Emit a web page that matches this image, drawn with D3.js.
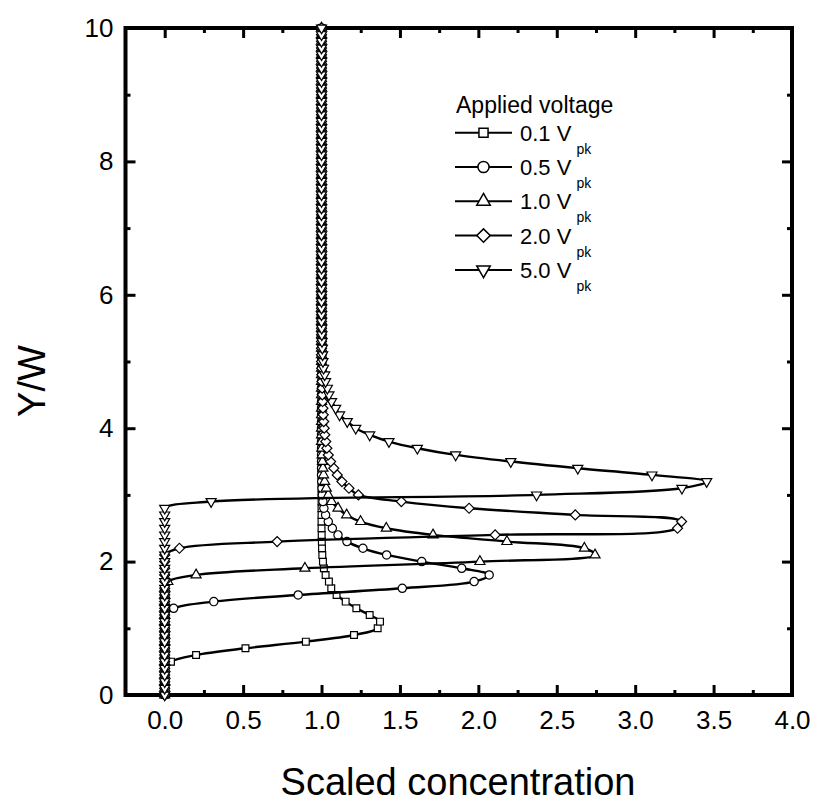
<!DOCTYPE html>
<html>
<head>
<meta charset="utf-8">
<script src="https://cdn.jsdelivr.net/npm/d3@7"></script>
<style>
  body { margin:0; background:#fff; }
  svg { font-family: "Liberation Sans", Arial, sans-serif; }
</style>
</head>
<body>
<div id="canvas"></div>
<script>
// Y/W sample positions
var yw = [
  0.0,0.1,0.2,0.3,0.4,0.5,0.6,0.7,0.8,0.9,
  1.0,1.1,1.2,1.3,1.4,1.5,1.6,1.7,1.8,1.9,
  2.0,2.1,2.2,2.3,2.4,2.5,2.6,2.7,2.8,2.9,
  3.0,3.1,3.2,3.3,3.4,3.5,3.6,3.7,3.8,3.9,
  4.0,4.1,4.2,4.3,4.4,4.5,4.6,4.7,4.8,4.9,
  5.0,5.1,5.2,5.3,5.4,5.5,5.6,5.7,5.8,5.9,
  6.0,6.1,6.2,6.3,6.4,6.5,6.6,6.7,6.8,6.9,
  7.0,7.1,7.2,7.3,7.4,7.5,7.6,7.7,7.8,7.9,
  8.0,8.1,8.2,8.3,8.4,8.5,8.6,8.7,8.8,8.9,
  9.0,9.1,9.2,9.3,9.4,9.5,9.6,9.7,9.8,9.9,
  10.0];

// scaled concentration for each applied voltage
var conc01 = [
  0,0,0,0,0,0.04,0.20,0.515,0.90,1.207,
  1.358,1.373,1.307,1.222,1.154,1.096,1.062,1.047,1.026,1.015,
  1.009,1.005,1.003,1.002,1.001,1,1,1,1,1,
  1,1,1,1,1,1,1,1,1,1,
  1,1,1,1,1,1,1,1,1,1,
  1,1,1,1,1,1,1,1,1,1,
  1,1,1,1,1,1,1,1,1,1,
  1,1,1,1,1,1,1,1,1,1,
  1,1,1,1,1,1,1,1,1,1,
  1,1,1,1,1,1,1,1,1,1,
  1];
var conc05 = [
  0,0,0,0,0,0,0,0,0,0,
  0,0,0,0.057,0.313,0.851,1.515,1.973,2.069,1.894,
  1.639,1.415,1.264,1.162,1.105,1.069,1.043,1.026,1.015,1.009,
  1.005,1.003,1.001,1,1,1,1,1,1,1,
  1,1,1,1,1,1,1,1,1,1,
  1,1,1,1,1,1,1,1,1,1,
  1,1,1,1,1,1,1,1,1,1,
  1,1,1,1,1,1,1,1,1,1,
  1,1,1,1,1,1,1,1,1,1,
  1,1,1,1,1,1,1,1,1,1,
  1];
var conc10 = [
  0,0,0,0,0,0,0,0,0,0,
  0,0,0,0,0,0,0,0.02,0.20,0.894,
  2.01,2.744,2.676,2.182,1.711,1.413,1.249,1.16,1.105,1.064,
  1.043,1.03,1.02,1.013,1.009,1.006,1.004,1.002,1,1,
  1,1,1,1,1,1,1,1,1,1,
  1,1,1,1,1,1,1,1,1,1,
  1,1,1,1,1,1,1,1,1,1,
  1,1,1,1,1,1,1,1,1,1,
  1,1,1,1,1,1,1,1,1,1,
  1,1,1,1,1,1,1,1,1,1,
  1];
var conc20 = [
  0,0,0,0,0,0,0,0,0,0,
  0,0,0,0,0,0,0,0,0,0,
  0,0,0.094,0.717,2.107,3.27,3.296,2.618,1.941,1.509,
  1.235,1.175,1.13,1.10,1.078,1.058,1.043,1.034,1.027,1.021,
  1.017,1.014,1.011,1.009,1.007,1.005,1.004,1.003,1.002,1.001,
  1,1,1,1,1,1,1,1,1,1,
  1,1,1,1,1,1,1,1,1,1,
  1,1,1,1,1,1,1,1,1,1,
  1,1,1,1,1,1,1,1,1,1,
  1,1,1,1,1,1,1,1,1,1,
  1];
var conc50 = [
  0,0,0,0,0,0,0,0,0,0,
  0,0,0,0,0,0,0,0,0,0,
  0,0,0,0,0,0,0,0,0,0.296,
  2.371,3.298,3.456,3.107,2.634,2.207,1.855,1.611,1.43,1.307,
  1.218,1.164,1.115,1.09,1.064,1.047,1.037,1.026,1.02,1.013,
  1.009,1.007,1.005,1.003,1.002,1.001,1,1,1,1,
  1,1,1,1,1,1,1,1,1,1,
  1,1,1,1,1,1,1,1,1,1,
  1,1,1,1,1,1,1,1,1,1,
  1,1,1,1,1,1,1,1,1,1,
  1];

var voltages = ['0.1', '0.5', '1.0', '2.0', '5.0'];
var xTicks = [0, 0.5, 1.0, 1.5, 2.0, 2.5, 3.0, 3.5, 4.0];
var xMinor = [0.25, 0.75, 1.25, 1.75, 2.25, 2.75, 3.25, 3.75];
var yTicks = [0, 2, 4, 6, 8, 10];
var yMinor = [1, 3, 5, 7, 9];

var m = {t:28, l:125.5},
    w = 792 - 125.5,
    h = 695 - 28;

var svg = d3.select('#canvas')
    .append('svg')
    .attr('width', 820)
    .attr('height', 803);

var plot = svg.append('g')
    .attr('transform','translate('+ m.l+','+ m.t+')');

// Scale
var scaleX = d3.scaleLinear()
    .domain([-0.25, 4.0])
    .range([0, w]);
var scaleY = d3.scaleLinear()
    .domain([0, 10])
    .range([h, 0]);

// symbols: square, circle, up triangle, diamond, down triangle
var symbols = [
  {type: d3.symbolSquare, size: 46, rot: 0},
  {type: d3.symbolCircle, size: 54, rot: 0},
  {type: d3.symbolTriangle, size: 44, rot: 0},
  {type: d3.symbolSquare, size: 50, rot: 45},
  {type: d3.symbolTriangle, size: 44, rot: 180}
];

var allConc = [conc01, conc05, conc10, conc20, conc50];
var series = voltages.map(function(v, i){
  return {
    name: v,
    sym: symbols[i],
    points: yw.map(function(y, k){ return {y: y, c: allConc[i][k]}; })
  };
});

drawAxis();
draw(series);
drawLegend();

function drawAxis(){
  function style(g){
    g.select('.domain').remove();
    g.selectAll('line').attr('stroke','#000').attr('stroke-width',3);
    g.selectAll('text').attr('fill','#000').style('font-size','26px');
  }
  // bottom
  plot.append('g').attr('transform','translate(0,'+h+')')
    .call(d3.axisBottom(scaleX).tickValues(xTicks).tickFormat(d3.format('.1f'))
      .tickSize(-10).tickPadding(16)).call(style);
  plot.append('g').attr('transform','translate(0,'+h+')')
    .call(d3.axisBottom(scaleX).tickValues(xMinor).tickFormat('').tickSize(-5)).call(style);
  // top
  plot.append('g')
    .call(d3.axisTop(scaleX).tickValues(xTicks).tickFormat('').tickSize(-10)).call(style);
  plot.append('g')
    .call(d3.axisTop(scaleX).tickValues(xMinor).tickFormat('').tickSize(-5)).call(style);
  // left
  plot.append('g')
    .call(d3.axisLeft(scaleY).tickValues(yTicks).tickFormat(d3.format('d'))
      .tickSize(-10).tickPadding(12)).call(style);
  plot.append('g')
    .call(d3.axisLeft(scaleY).tickValues(yMinor).tickFormat('').tickSize(-5)).call(style);
  // right
  plot.append('g').attr('transform','translate('+w+',0)')
    .call(d3.axisRight(scaleY).tickValues(yTicks).tickFormat('').tickSize(-10)).call(style);
  plot.append('g').attr('transform','translate('+w+',0)')
    .call(d3.axisRight(scaleY).tickValues(yMinor).tickFormat('').tickSize(-5)).call(style);

  // frame
  plot.append('rect')
    .attr('width', w).attr('height', h)
    .attr('fill','none').attr('stroke','#000').attr('stroke-width',4);

  // titles
  svg.append('text')
    .attr('x', 458).attr('y', 795)
    .attr('text-anchor','middle')
    .style('font-size','38px')
    .text('Scaled concentration');
  svg.append('text')
    .attr('transform','translate(45,381) rotate(-90)')
    .attr('text-anchor','middle')
    .style('font-size','38px')
    .text('Y/W');
}

function draw(data){
  var line = d3.line()
    .x(function(d){ return scaleX(d.c); })
    .y(function(d){ return scaleY(d.y); })
    .curve(d3.curveCatmullRom.alpha(0.5));

  var g = plot.selectAll('.series').data(data)
    .enter().append('g').attr('class','series');

  g.append('path')
    .attr('d', function(d){ return line(d.points); })
    .attr('fill','none')
    .attr('stroke','#000')
    .attr('stroke-width',2.4);

  g.each(function(s){
    d3.select(this).selectAll('path.pt').data(s.points)
      .enter().append('path')
      .attr('class','pt')
      .attr('d', d3.symbol(s.sym.type, s.sym.size))
      .attr('transform', function(d){
        return 'translate('+scaleX(d.c)+','+scaleY(d.y)+') rotate('+s.sym.rot+')';
      })
      .attr('fill','#fff')
      .attr('stroke','#000')
      .attr('stroke-width',1.2);
  });
}

function drawLegend(){
  var lg = svg.append('g');
  lg.append('text')
    .attr('x', 456).attr('y', 113)
    .style('font-size','23px')
    .text('Applied voltage');

  var row = lg.selectAll('.row').data(series)
    .enter().append('g').attr('class','row')
    .attr('transform', function(d,i){ return 'translate(0,'+(132.7 + i*34.3)+')'; });

  row.append('line')
    .attr('x1',455).attr('x2',512)
    .attr('stroke','#000').attr('stroke-width',2);
  row.append('path')
    .attr('d', function(d){ return d3.symbol(d.sym.type, d.sym.size*1.8)(); })
    .attr('transform', function(d){ return 'translate(483.5,0) rotate('+d.sym.rot+')'; })
    .attr('fill','#fff').attr('stroke','#000').attr('stroke-width',1.5);

  var t = row.append('text')
    .attr('x', 520).attr('y', 8)
    .style('font-size','22px');
  t.append('tspan').text(function(d){ return d.name + ' V'; });
  t.append('tspan').attr('dx',5).attr('dy',13).style('font-size','14px').text('pk');
}
</script>
</body>
</html>
